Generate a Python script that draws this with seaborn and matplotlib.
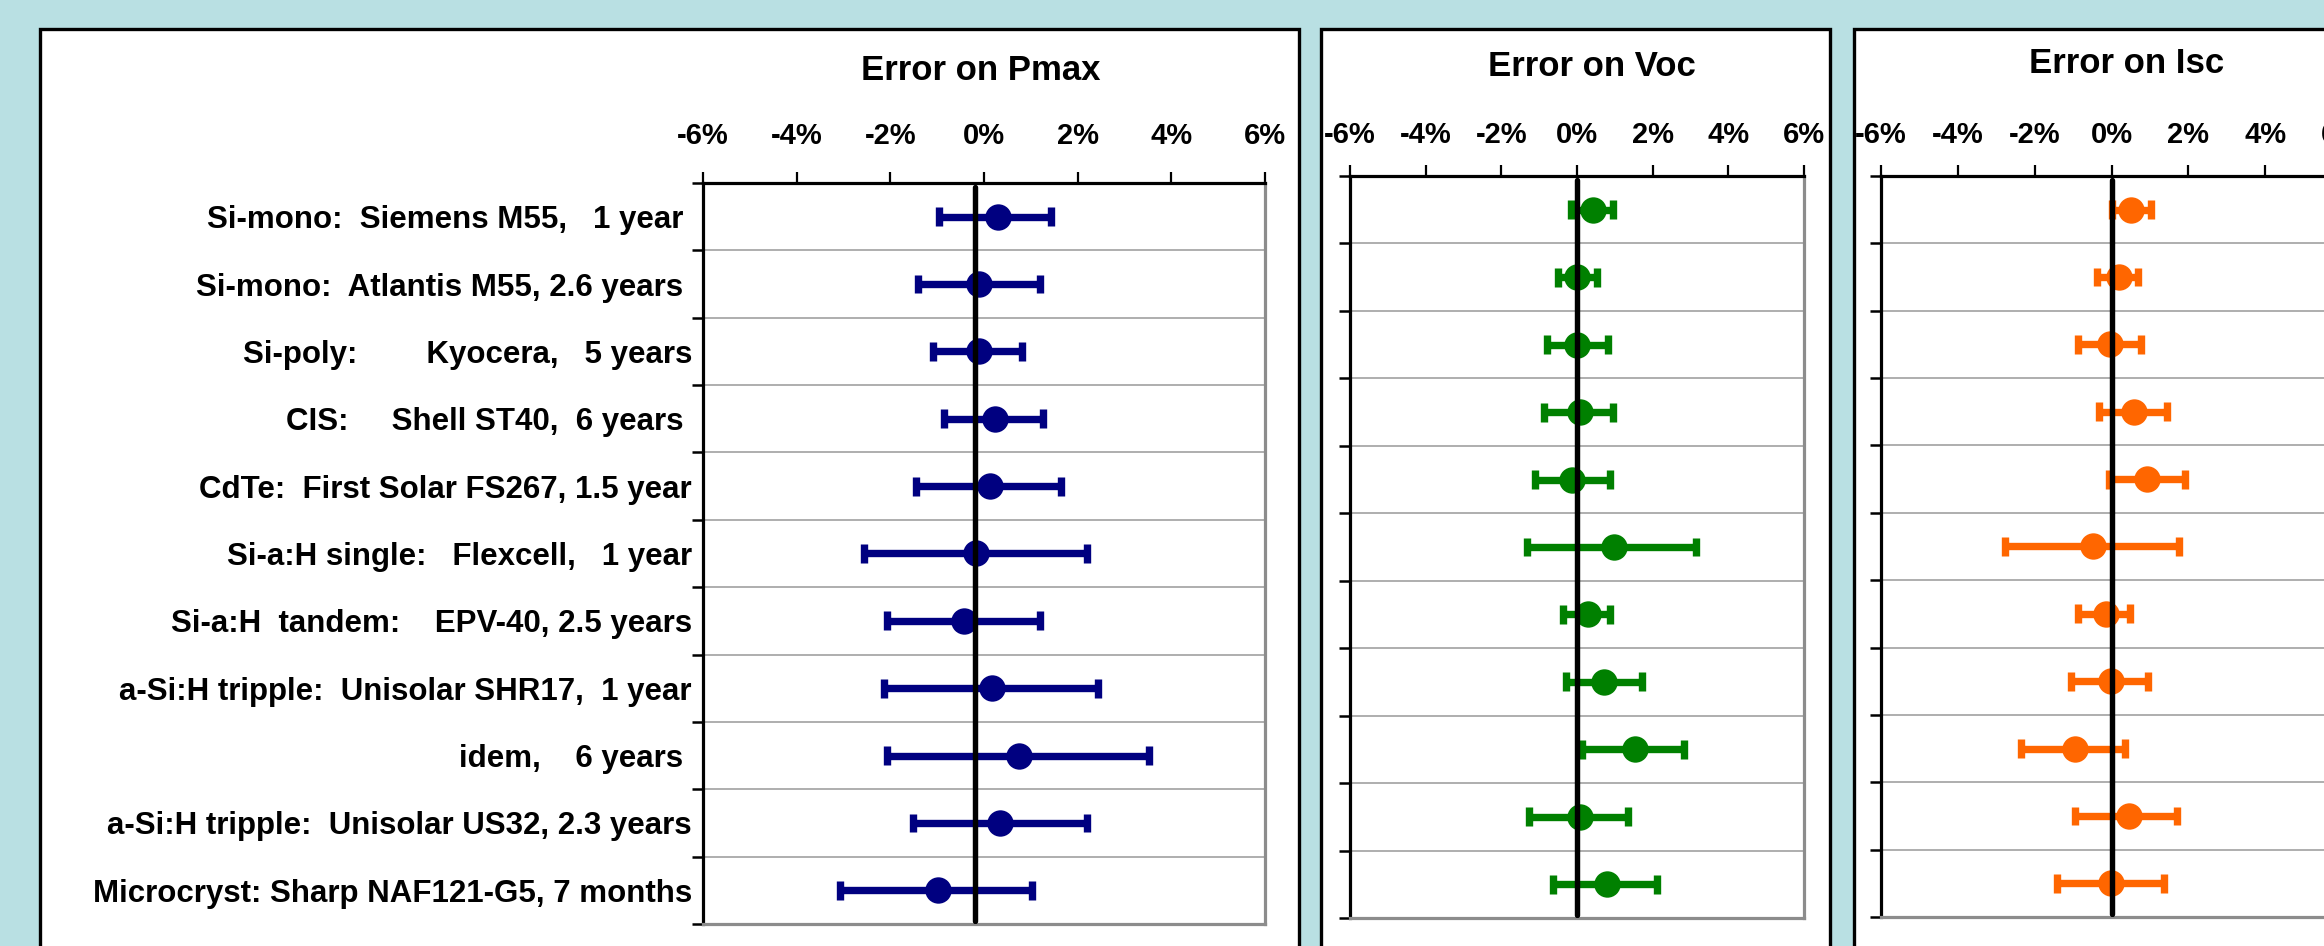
import numpy as np
import pandas as pd
import seaborn as sns
import matplotlib.pyplot as plt
from matplotlib.patches import Rectangle

# modules (top to bottom)
modules = [
    "Si-mono:  Siemens M55,   1 year ",
    "Si-mono:  Atlantis M55, 2.6 years ",
    "Si-poly:        Kyocera,   5 years",
    "CIS:     Shell ST40,  6 years ",
    "CdTe:  First Solar FS267, 1.5 year",
    "Si-a:H single:   Flexcell,   1 year",
    "Si-a:H  tandem:    EPV-40, 2.5 years",
    "a-Si:H tripple:  Unisolar SHR17,  1 year",
    "idem,    6 years ",
    "a-Si:H tripple:  Unisolar US32, 2.3 years",
    "Microcryst: Sharp NAF121-G5, 7 months",
]

# errors in %: centre value, lower and upper end of the bar
pmax_mid = [0.29, -0.10, -0.10, 0.23, 0.12, -0.17, -0.43, 0.17, 0.74, 0.34, -0.99]
pmax_lo = [-0.96, -1.41, -1.09, -0.85, -1.46, -2.57, -2.07, -2.13, -2.07, -1.52, -3.07]
pmax_hi = [1.43, 1.20, 0.81, 1.26, 1.65, 2.20, 1.19, 2.43, 3.52, 2.20, 1.02]

voc_mid = [0.43, 0.00, 0.00, 0.07, -0.12, 0.99, 0.30, 0.71, 1.54, 0.07, 0.78]
voc_lo = [-0.16, -0.51, -0.78, -0.86, -1.12, -1.33, -0.36, -0.30, 0.13, -1.26, -0.64]
voc_hi = [0.94, 0.52, 0.81, 0.94, 0.87, 3.15, 0.87, 1.71, 2.82, 1.36, 2.11]

isc_mid = [0.52, 0.19, -0.03, 0.59, 0.93, -0.49, -0.15, -0.02, -0.96, 0.46, -0.02]
isc_lo = [0.00, -0.39, -0.87, -0.33, -0.07, -2.76, -0.87, -1.06, -2.35, -0.94, -1.41]
isc_hi = [1.02, 0.69, 0.76, 1.44, 1.91, 1.77, 0.49, 0.96, 0.35, 1.70, 1.36]

titles = ["Error on Pmax", "Error on Voc", "Error on Isc"]
ref_lines = [-0.2, 0.0, 0.0]
x_ticks = [-6, -4, -2, 0, 2, 4, 6]
x_ticklabels = ["-6%", "-4%", "-2%", "0%", "2%", "4%", "6%"]

W, H = 2324, 946
BG = "#B9E0E3"
colors = ["#000080", "#008000", "#FF6600"]


def px(x0, y0, x1, y1):
    # pixel box (top-left origin) -> figure fraction rect
    return [x0 / W, (H - y1) / H, (x1 - x0) / W, (y1 - y0) / H]


def long_form(mid, lo, hi):
    rows = []
    for m, a, b, c in zip(modules, lo, mid, hi):
        for v in (a, b, c):
            rows.append({"module": m, "value": v})
    return pd.DataFrame(rows)


sns.set_theme(style="white")
plt.rcParams["font.family"] = ["Liberation Sans", "DejaVu Sans"]
plt.rcParams["font.weight"] = "bold"
plt.rcParams["text.color"] = "black"
plt.rcParams["xtick.color"] = "black"
plt.rcParams["ytick.color"] = "black"

fig = plt.figure(figsize=(W / 100, H / 100), dpi=100, facecolor=BG)

# white panels with black frame
panel_boxes = [(40, 29, 1299, 1000), (1321, 29, 1830, 1000), (1854, 29, 2500, 1000)]
for b in panel_boxes:
    r = px(*b)
    fig.add_artist(Rectangle((r[0], r[1]), r[2], r[3], transform=fig.transFigure,
                             facecolor="white", edgecolor="black", lw=2.4, zorder=-1))

axes_boxes = [(703, 183, 1265, 924), (1350, 176, 1804, 918), (1881, 176, 2342, 917)]
title_pos = [(981, 80), (1592, 76), (2127, 73)]
tick_pads = [16.0, 12.0, 12.0]
series = [(pmax_mid, pmax_lo, pmax_hi), (voc_mid, voc_lo, voc_hi), (isc_mid, isc_lo, isc_hi)]

for i, (mid, lo, hi) in enumerate(series):
    ax = fig.add_axes(px(*axes_boxes[i]))
    ax.set_facecolor("white")
    df = long_form(mid, lo, hi)
    sns.pointplot(data=df, x="value", y="module", order=modules, estimator="median",
                  errorbar=("pi", 100), color=colors[i], marker="o", linestyle="none",
                  markersize=19, markeredgewidth=0, linewidth=5.3, capsize=0.28,
                  err_kws={"linewidth": 5.3, "solid_capstyle": "butt"}, ax=ax)
    ax.axvline(ref_lines[i], ymin=0.004, ymax=0.995, color="black", lw=3.9, zorder=5)

    ax.set_xlim(-6, 6)
    ax.set_ylim(len(modules) - 0.5, -0.5)
    ax.set_xlabel("")
    ax.set_ylabel("")
    ax.xaxis.tick_top()
    ax.set_xticks(x_ticks)
    ax.set_xticklabels(x_ticklabels, fontsize=21, fontweight="bold", color="black")
    ax.tick_params(axis="x", direction="out", length=7.7, width=1.6,
                   color="black", pad=tick_pads[i])

    ax.set_yticks(np.arange(len(modules)))
    if i == 0:
        ax.set_yticklabels(modules, fontsize=22.5, fontweight="bold", color="black")
    else:
        ax.set_yticklabels([])
    ax.tick_params(axis="y", which="major", length=0, pad=8)
    ax.set_yticks(np.arange(-0.5, len(modules)), minor=True)
    ax.tick_params(axis="y", which="minor", left=True, direction="out",
                   length=8, width=1.8, color="black")
    ax.grid(False)
    ax.grid(axis="y", which="minor", color="#a8a8a8", lw=1.3)
    ax.set_axisbelow(True)

    for side in ["top", "left"]:
        ax.spines[side].set_color("black")
        ax.spines[side].set_linewidth(2.3)
    for side in ["right", "bottom"]:
        ax.spines[side].set_color("#8c8c8c")
        ax.spines[side].set_linewidth(2.3)
        ax.spines[side].set_visible(True)

    tx, ty = title_pos[i]
    fig.text(tx / W, (H - ty) / H, titles[i], ha="center", va="baseline",
             fontsize=25, fontweight="bold", color="black")

fig.savefig("out.png", dpi=100, facecolor=BG)
